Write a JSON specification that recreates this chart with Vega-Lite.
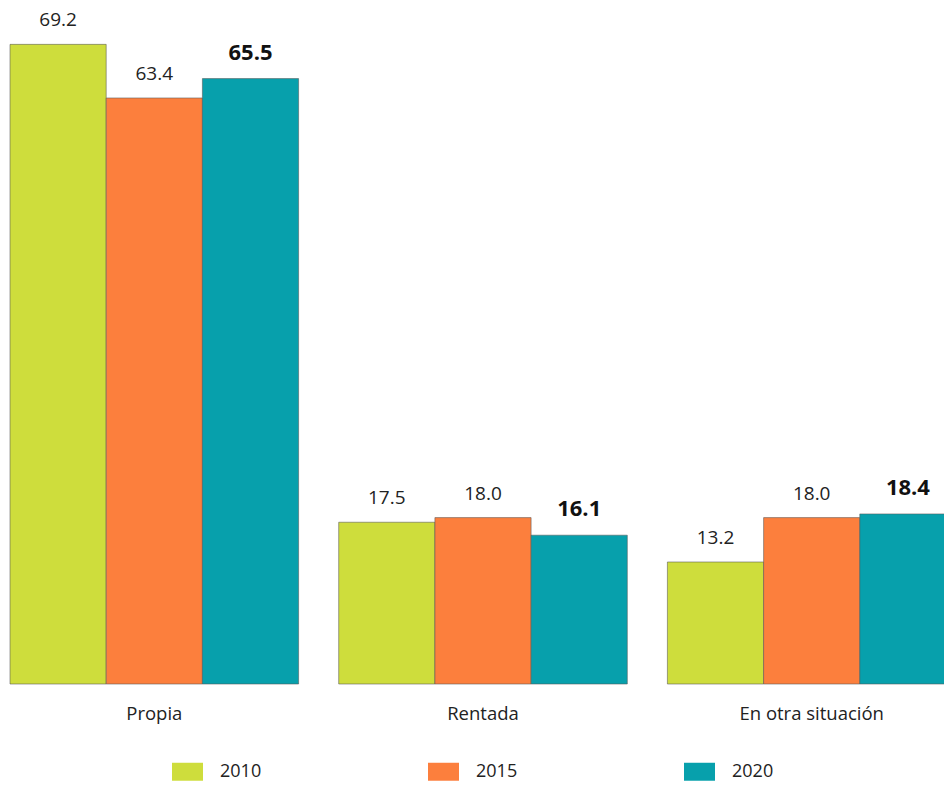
{
  "$schema": "https://vega.github.io/schema/vega-lite/v6.json",
  "autosize": "none",
  "width": 946,
  "height": 684,
  "padding": {"left": 10, "top": 0, "right": 0, "bottom": 101},
  "background": "white",
  "config": {"view": {"stroke": null}, "font": "Open Sans"},
  "data": {"values": [
    {"tenencia": "Propia", "anio": "2010", "valor": 69.2},
    {"tenencia": "Propia", "anio": "2015", "valor": 63.4},
    {"tenencia": "Propia", "anio": "2020", "valor": 65.5},
    {"tenencia": "Rentada", "anio": "2010", "valor": 17.5},
    {"tenencia": "Rentada", "anio": "2015", "valor": 18.0},
    {"tenencia": "Rentada", "anio": "2020", "valor": 16.1},
    {"tenencia": "En otra situación", "anio": "2010", "valor": 13.2},
    {"tenencia": "En otra situación", "anio": "2015", "valor": 18.0},
    {"tenencia": "En otra situación", "anio": "2020", "valor": 18.4}
  ]},
  "encoding": {
    "x": {"field": "tenencia", "type": "nominal", "sort": ["Propia", "Rentada", "En otra situación"],
      "scale": {"paddingInner": 0.122, "paddingOuter": 0},
      "axis": {"title": null, "domain": false, "ticks": false, "labelAngle": 0, "labelFontSize": 18.5, "labelColor": "#222", "labelPadding": 20, "labelFont": "Open Sans"}},
    "xOffset": {"field": "anio", "type": "nominal", "sort": ["2010", "2015", "2020"], "scale": {"paddingInner": 0, "paddingOuter": 0}},
    "y": {"field": "valor", "type": "quantitative", "scale": {"domain": [0, 74], "nice": false}, "axis": null}
  },
  "layer": [
    {
      "mark": {"type": "bar", "stroke": "#555", "strokeOpacity": 0.55, "strokeWidth": 1},
      "encoding": {
        "color": {"field": "anio", "type": "nominal", "title": null,
          "scale": {"domain": ["2010", "2015", "2020"], "range": ["#CEDD3C", "#FC7F3D", "#07A0AC"]},
          "legend": {"orient": "none", "legendX": 162, "legendY": 756, "direction": "horizontal", "columns": 3, "columnPadding": 166, "padding": 0,
            "symbolType": "M-1,-0.58H1V0.58H-1Z", "symbolSize": 961, "symbolStrokeWidth": 0, "symbolOpacity": 1,
            "labelFontSize": 18, "labelColor": "#222", "labelOffset": 17, "labelFont": "Open Sans"}}
      }
    },
    {
      "transform": [{"filter": "datum.anio !== '2020'"}],
      "mark": {"type": "text", "baseline": "middle", "dy": -24, "fontSize": 19, "color": "#222"},
      "encoding": {"text": {"field": "valor", "type": "quantitative", "format": ".1f"}}
    },
    {
      "transform": [{"filter": "datum.anio === '2020'"}],
      "mark": {"type": "text", "baseline": "middle", "dy": -26, "fontSize": 22, "fontWeight": "bold", "color": "#111"},
      "encoding": {"text": {"field": "valor", "type": "quantitative", "format": ".1f"}}
    }
  ]
}
